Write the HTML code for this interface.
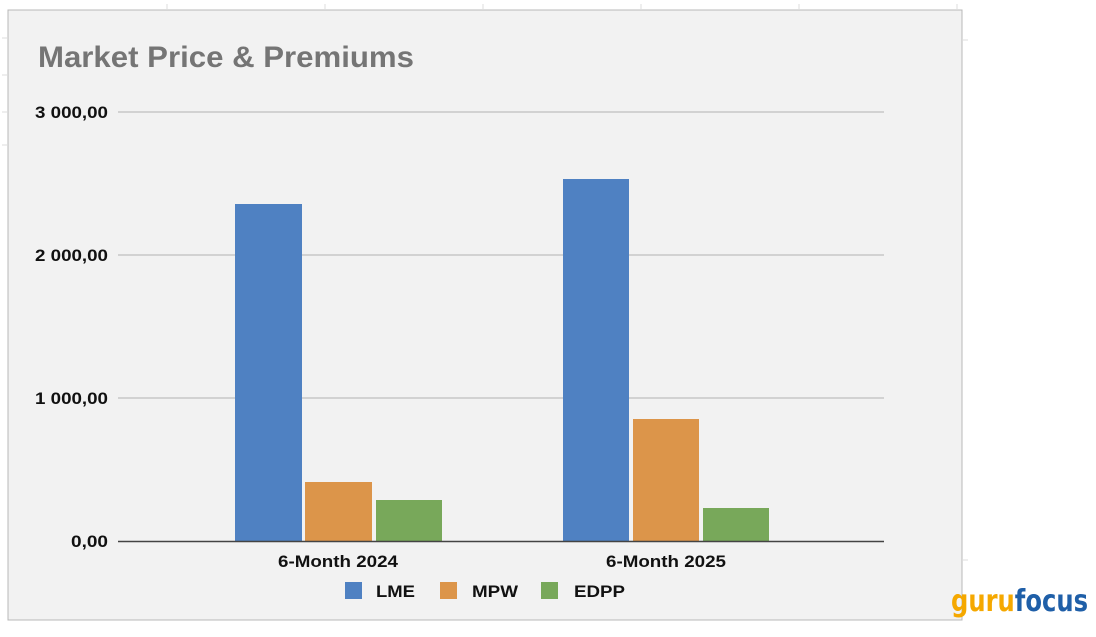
<!DOCTYPE html>
<html><head><style>
body{margin:0;background:#fff;width:1096px;height:632px;overflow:hidden;font-family:"Liberation Sans",Arial,sans-serif}
</style></head><body>
<svg width="1096" height="632" xmlns="http://www.w3.org/2000/svg" font-family="Liberation Sans, Arial, sans-serif">
<rect x="8" y="10" width="954" height="610" fill="#f2f2f2" stroke="#b8b8b8" stroke-width="1"/>
<g stroke="#ddd" stroke-width="1">
<line x1="167" y1="4" x2="167" y2="10"/><line x1="325" y1="4" x2="325" y2="10"/><line x1="483" y1="4" x2="483" y2="10"/><line x1="641" y1="4" x2="641" y2="10"/><line x1="799" y1="4" x2="799" y2="10"/><line x1="957" y1="4" x2="957" y2="10"/>
<line x1="2" y1="38" x2="8" y2="38"/><line x1="2" y1="75" x2="8" y2="75"/><line x1="2" y1="112" x2="8" y2="112"/><line x1="2" y1="145" x2="8" y2="145"/>
<line x1="962" y1="40" x2="968" y2="40"/><line x1="962" y1="560" x2="968" y2="560"/>
</g>
<text x="38" y="67" font-size="30" font-weight="bold" fill="#757575" textLength="376" lengthAdjust="spacingAndGlyphs">Market Price &amp; Premiums</text>
<g stroke="#c8c8c8" stroke-width="1.5">
<line x1="118" y1="112" x2="884" y2="112"/><line x1="118" y1="255" x2="884" y2="255"/><line x1="118" y1="398" x2="884" y2="398"/>
</g>
<g font-size="17" font-weight="bold" fill="#111" lengthAdjust="spacingAndGlyphs">
<text x="35" y="118" textLength="73" lengthAdjust="spacingAndGlyphs">3 000,00</text>
<text x="35" y="261" textLength="73" lengthAdjust="spacingAndGlyphs">2 000,00</text>
<text x="35" y="404" textLength="73" lengthAdjust="spacingAndGlyphs">1 000,00</text>
<text x="71" y="547" textLength="37" lengthAdjust="spacingAndGlyphs">0,00</text>
</g>
<rect x="235" y="204" width="67" height="337" fill="#4f81c2"/>
<rect x="305" y="482" width="67" height="59" fill="#dc954a"/>
<rect x="376" y="500" width="66" height="41" fill="#78a85a"/>
<rect x="563" y="179" width="66" height="362" fill="#4f81c2"/>
<rect x="633" y="419" width="66" height="122" fill="#dc954a"/>
<rect x="703" y="508" width="66" height="33" fill="#78a85a"/>
<line x1="118" y1="541.5" x2="884" y2="541.5" stroke="#444" stroke-width="1.5"/>
<g font-size="17" font-weight="bold" fill="#111">
<text x="278" y="567" textLength="120" lengthAdjust="spacingAndGlyphs">6-Month 2024</text>
<text x="606" y="567" textLength="120" lengthAdjust="spacingAndGlyphs">6-Month 2025</text>
</g>
<rect x="345" y="582" width="17" height="17" fill="#4f81c2"/>
<rect x="440" y="582" width="17" height="17" fill="#dc954a"/>
<rect x="541" y="582" width="17" height="17" fill="#78a85a"/>
<g font-size="17" font-weight="bold" fill="#111">
<text x="376" y="597" textLength="39" lengthAdjust="spacingAndGlyphs">LME</text>
<text x="472" y="597" textLength="46" lengthAdjust="spacingAndGlyphs">MPW</text>
<text x="574" y="597" textLength="51" lengthAdjust="spacingAndGlyphs">EDPP</text>
</g>
<text x="951" y="611" font-size="30" font-weight="bold" fill="#f5a800" font-family="DejaVu Sans Condensed, DejaVu Sans, sans-serif" textLength="137" lengthAdjust="spacingAndGlyphs">guru<tspan fill="#1f5fa8">focus</tspan></text>
</svg>
</body></html>
